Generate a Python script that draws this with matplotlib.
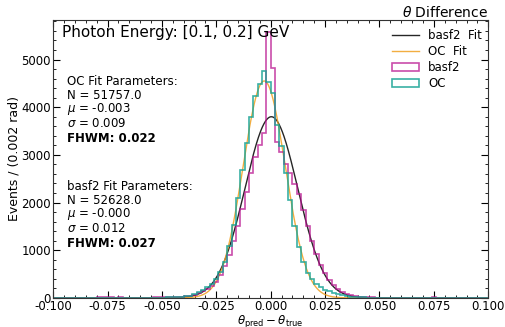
import numpy as np
import matplotlib
matplotlib.use('Agg')
import matplotlib.pyplot as plt
from matplotlib.ticker import AutoMinorLocator

# histogram bins: 0.002 rad from -0.1 to 0.1
bin_edges = np.round(np.arange(-0.1, 0.1001, 0.002), 4)

# counts per bin
oc_counts = [
    0, 0, 0, 0, 1, 0, 1, 1, 0, 1,
    0, 1, 1, 1, 1, 1, 2, 2, 2, 3,
    3, 3, 4, 5, 6, 7, 9, 12, 16, 22,
    32, 48, 75, 115, 165, 220, 290, 390, 540, 760,
    1080, 1520, 2100, 2690, 3250, 3800, 4240, 4480, 4750, 4520,
    4300, 3620, 3180, 2620, 2060, 1500, 1070, 760, 530, 390,
    300, 230, 175, 135, 100, 75, 52, 36, 26, 18,
    13, 9, 7, 5, 4, 3, 3, 2, 2, 1,
    1, 1, 1, 0, 1, 0, 0, 1, 0, 0,
    0, 0, 0, 0, 0, 0, 0, 0, 0, 0,
]
basf2_counts = [
    0, 0, 0, 0, 0, 0, 0, 0, 5, 8,
    10, 12, 9, 11, 8, 10, 6, 5, 6, 7,
    6, 7, 8, 9, 10, 12, 14, 17, 21, 27,
    36, 48, 68, 100, 140, 185, 245, 340, 480, 670,
    910, 1190, 1500, 1860, 2230, 2620, 2950, 3200, 3450, 5580,
    4830, 3260, 3050, 2800, 2620, 2380, 2170, 1850, 1500, 1200,
    930, 700, 520, 380, 270, 190, 130, 90, 60, 40,
    28, 19, 13, 9, 7, 6, 5, 4, 4, 3,
    3, 2, 3, 2, 4, 6, 8, 9, 7, 5,
    4, 3, 0, 0, 0, 0, 0, 0, 0, 0,
]

# gaussian fit curves (amplitude, mean, sigma) as drawn
oc_fit = (4550, -0.003, 0.0097)
basf2_fit = (3800, 0.0003, 0.0121)

oc_lines = ["OC Fit Parameters:", "N = 51757.0", r"$\mu$ = -0.003",
            r"$\sigma$ = 0.009", "FHWM: 0.022"]
basf2_lines = ["basf2 Fit Parameters:", "N = 52628.0", r"$\mu$ = -0.000",
               r"$\sigma$ = 0.012", "FHWM: 0.027"]


def gauss(x, a, mu, sig):
    return a * np.exp(-(x - mu) ** 2 / (2 * sig ** 2))


centers = 0.5 * (bin_edges[:-1] + bin_edges[1:])
xs = np.linspace(-0.1, 0.1, 800)

fig = plt.figure(figsize=(5.06, 3.27), dpi=100)
ax = fig.add_axes([0.105, 0.089, 0.860, 0.850])

ax.plot(xs, gauss(xs, *basf2_fit), color='black', lw=1.0, alpha=0.85,
        label='basf2  Fit')
ax.plot(xs, gauss(xs, *oc_fit), color='#f0a020', lw=1.0, alpha=0.85,
        label='OC  Fit')
ax.hist(centers, bins=bin_edges, weights=basf2_counts, histtype='step',
        color='#b8128f', lw=1.2, alpha=0.75, label='basf2')
ax.hist(centers, bins=bin_edges, weights=oc_counts, histtype='step',
        color='#17a394', lw=1.2, alpha=0.85, label='OC')

ax.set_xlim(-0.1, 0.1)
ax.set_ylim(0, 5830)
ax.set_xticks(np.linspace(-0.1, 0.1, 9))
ax.xaxis.set_major_formatter(plt.FormatStrFormatter('%.3f'))
ax.xaxis.set_minor_locator(AutoMinorLocator())
ax.yaxis.set_minor_locator(AutoMinorLocator())
ax.tick_params(which='both', direction='in', top=True, right=True,
               labelsize=8.5, pad=1.5)
ax.tick_params(which='major', length=5)
ax.tick_params(which='minor', length=2.5)
for s in ax.spines.values():
    s.set_color('#333333')

ax.set_xlabel(r'$\theta_{\rm pred} - \theta_{\rm true}$', fontsize=8.5,
              labelpad=0)
ax.set_ylabel('Events / (0.002 rad)', fontsize=9, labelpad=1)
ax.set_title(r'$\theta$ Difference', loc='right', fontsize=10, pad=2)

ax.text(0.02, 0.955, 'Photon Energy: [0.1, 0.2] GeV', transform=ax.transAxes,
        fontsize=11, va='center', ha='left')

# parameter blocks, one line at a time (pixel rows from the reference)
line_step = 0.0505
for block, y0 in ((oc_lines, 0.780), (basf2_lines, 0.402)):
    for k, txt in enumerate(block):
        bold = txt.startswith('FHWM')
        ax.text(0.032, y0 - k * line_step - (0.003 if bold else 0), txt,
                transform=ax.transAxes, fontsize=8.5, va='center',
                ha='left', fontweight='bold' if bold else 'normal')

ax.legend(loc='upper right', frameon=False, fontsize=8.5,
          bbox_to_anchor=(1.01, 1.005), handlelength=2.3,
          labelspacing=0.25)

fig.savefig('out.png', dpi=100)
